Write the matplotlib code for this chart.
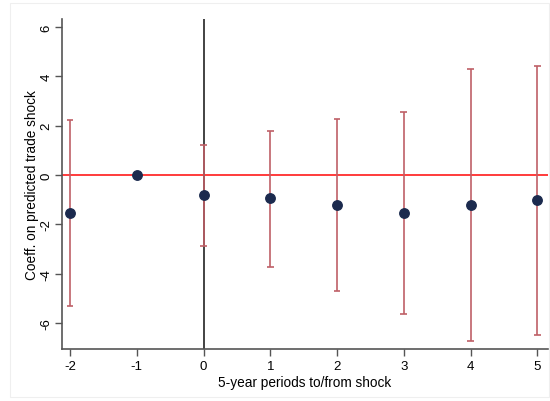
import matplotlib
matplotlib.use("Agg")
import matplotlib.pyplot as plt
from matplotlib.patches import Rectangle

plt.rcParams['font.family'] = ['Liberation Sans', 'DejaVu Sans']

# Event-study coefficients with confidence bounds
periods = [-2, -1, 0, 1, 2, 3, 4, 5]
coef = [-1.54, 0.0, -0.82, -0.95, -1.22, -1.53, -1.20, -1.03]
ci_low = [-5.31, None, -2.87, -3.72, -4.70, -5.62, -6.72, -6.49]
ci_high = [2.23, None, 1.23, 1.80, 2.26, 2.57, 4.30, 4.42]

yticks = [-6, -4, -2, 0, 2, 4, 6]
xticks = [-2, -1, 0, 1, 2, 3, 4, 5]

fig = plt.figure(figsize=(5.5, 4.02), dpi=100)
fig.patches.append(Rectangle((10 / 550, 4 / 402), 539 / 550, 394 / 402,
                             transform=fig.transFigure, fill=False,
                             edgecolor='#efefef', linewidth=0.8))
ax = fig.add_axes([62 / 550, 52 / 402, 486 / 550, 330 / 402])

ci_color = '#bf5f66'
for p, lo, hi in zip(periods, ci_low, ci_high):
    if lo is None:
        continue
    ax.vlines(p, lo, hi, color=ci_color, linewidth=1.4, alpha=0.85, zorder=2)
    ax.hlines([lo, hi], p - 0.05, p + 0.05, color=ci_color, linewidth=1.4,
              alpha=0.85, zorder=2)

ax.axhline(0, color='#ff1a1a', linewidth=1.2, zorder=1)
ax.axvline(0, color='#222222', linewidth=1.2, zorder=1)

ax.plot(periods, coef, 'o', color='#1b2a4e', markersize=6.8, zorder=3)

ax.set_xlim(-2.12, 5.16)
ax.set_ylim(-7.05, 6.32)
ax.set_xticks(xticks)
ax.set_yticks(yticks)
ax.set_xticklabels([str(t) for t in xticks], fontsize=9.5)
ax.set_yticklabels([str(t) for t in yticks], fontsize=9.5, rotation=90,
                   va='center')

for s in ['top', 'right']:
    ax.spines[s].set_visible(False)
for s in ['left', 'bottom']:
    ax.spines[s].set_color('#555555')
    ax.spines[s].set_linewidth(1.2)
ax.tick_params(axis='x', direction='out', length=5, width=1,
               color='#555555', pad=3)
ax.tick_params(axis='y', direction='out', length=5, width=1,
               color='#555555', pad=2)

ax.set_xlabel('5-year periods to/from shock', fontsize=9.8, labelpad=2)
ax.set_ylabel('Coeff. on predicted trade shock', fontsize=9.8, labelpad=1)

fig.savefig('out.png', dpi=100)
